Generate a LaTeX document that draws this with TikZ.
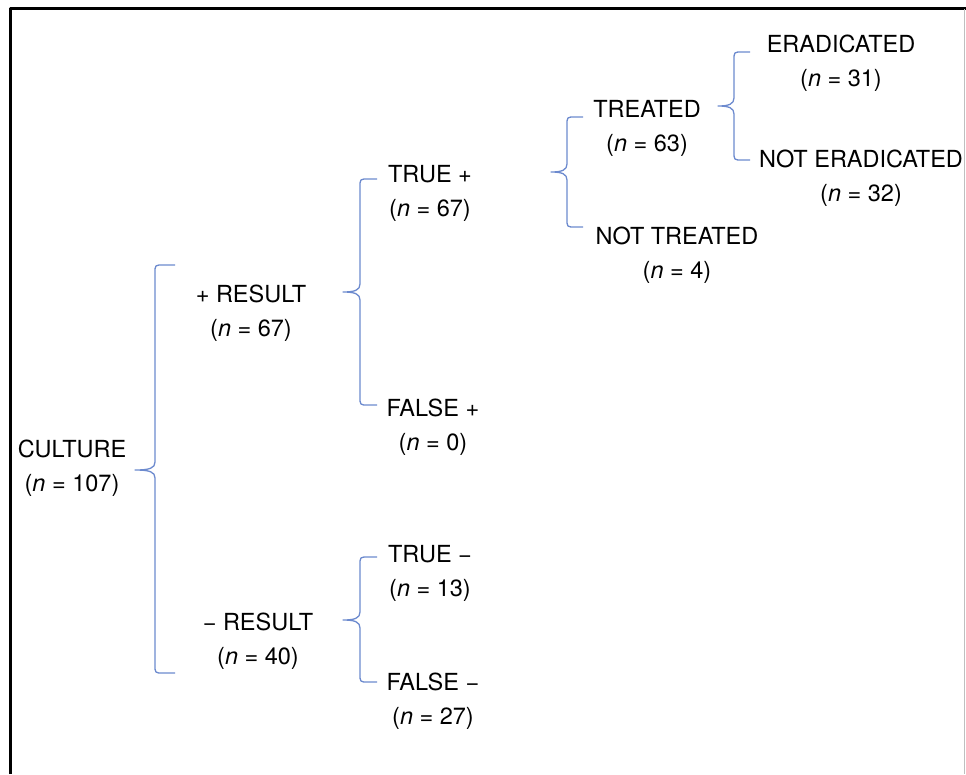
\documentclass[tikz,border=0pt]{standalone}
\usepackage{fontspec}
\setmainfont{TeX Gyre Heros}
\definecolor{braceblue}{RGB}{108,138,206}
% brace with its tip at #2, half heights #3 (up) and #4 (down)
\newcommand{\splitbrace}[4][17]{%
    \begin{scope}[shift={(#2)}]
        \draw[split brace] (2*#1,-#3) -- (#1+8,-#3) .. controls (#1,-#3) .. (#1,-#3+8)
            -- (#1,-8) .. controls (#1,-2) and (#1-5,0) .. (0,0)
            .. controls (#1-5,0) and (#1,2) .. (#1,8)
            -- (#1,#4-8) .. controls (#1,#4) .. (#1+8,#4) -- (2*#1,#4);
    \end{scope}
}
\begin{document}
\begin{tikzpicture}[line join=round, x=1pt, y=-1pt]
    \tikzset{
        tree text/.style={align=center, inner sep=0pt, font=\fontsize{23.5}{34}\selectfont},
        split brace/.style={draw=braceblue, line width=1.3pt},
        frame/.style={line width=3pt}
    }
    \useasboundingbox (0,0) rectangle (966,774);
    \draw[frame] (10,774) -- (10,8) -- (966,8);
    \draw[black!25, line width=0.8pt] (964.5,9) -- (964.5,774);

    \node[tree text] (culture) at (72,468) {CULTURE\\(\textit{n} = 107)};
    \node[tree text] (posres) at (251,313) {+ RESULT\\(\textit{n} = 67)};
    \node[tree text] (negres) at (258,641) {− RESULT\\(\textit{n} = 40)};
    \node[tree text] (truepos) at (430,193) {TRUE +\\(\textit{n} = 67)};
    \node[tree text] (falsepos) at (433,427) {FALSE +\\(\textit{n} = 0)};
    \node[tree text] (trueneg) at (430,573) {TRUE −\\(\textit{n} = 13)};
    \node[tree text] (falseneg) at (433,701) {FALSE −\\(\textit{n} = 27)};
    \node[tree text] (treated) at (647,128) {TREATED\\(\textit{n} = 63)};
    \node[tree text] (nottreated) at (677,255) {NOT TREATED\\(\textit{n} = 4)};
    \node[tree text] (erad) at (841,63) {ERADICATED\\(\textit{n} = 31)};
    \node[tree text] (noterad) at (861,178) {NOT ERADICATED\\(\textit{n} = 32)};

    % brace tips
    \coordinate (culture split) at (135,470);
    \coordinate (posres split) at (343,292);
    \coordinate (negres split) at (343,620);
    \coordinate (truepos split) at (551,172);
    \coordinate (treated split) at (718,106);

    \splitbrace[20]{culture split}{205}{203}
    \splitbrace{posres split}{113}{113}
    \splitbrace{negres split}{63}{62}
    \splitbrace[16]{truepos split}{55}{55}
    \splitbrace[16]{treated split}{54}{54}
\end{tikzpicture}
\end{document}
